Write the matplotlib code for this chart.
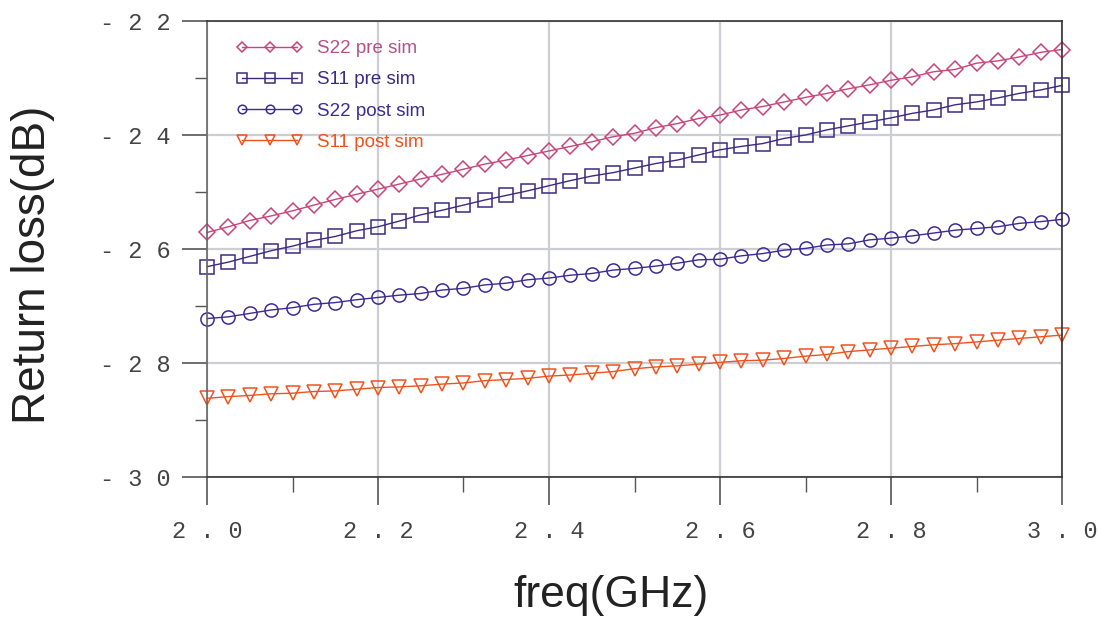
import numpy as np
import matplotlib
matplotlib.use("Agg")
import matplotlib.pyplot as plt
from matplotlib.ticker import MultipleLocator

# data (41 points, 2.0 .. 3.0 GHz)
freq = np.linspace(2.0, 3.0, 41)

s22_pre = [-25.71, -25.61, -25.50, -25.42, -25.33, -25.23, -25.13, -25.04, -24.95, -24.86,
           -24.77, -24.69, -24.60, -24.51, -24.44, -24.36, -24.28, -24.20, -24.12, -24.03,
           -23.97, -23.87, -23.80, -23.71, -23.65, -23.56, -23.50, -23.42, -23.34, -23.27,
           -23.19, -23.12, -23.04, -22.98, -22.89, -22.85, -22.74, -22.70, -22.63, -22.55,
           -22.50]
s11_pre = [-26.31, -26.23, -26.13, -26.03, -25.95, -25.85, -25.78, -25.68, -25.61, -25.51,
           -25.40, -25.32, -25.23, -25.14, -25.06, -24.98, -24.89, -24.80, -24.72, -24.66,
           -24.58, -24.50, -24.44, -24.35, -24.26, -24.20, -24.15, -24.06, -24.00, -23.91,
           -23.84, -23.77, -23.70, -23.62, -23.56, -23.47, -23.42, -23.35, -23.27, -23.21,
           -23.13]
s22_post = [-27.22, -27.19, -27.13, -27.07, -27.03, -26.97, -26.94, -26.89, -26.85, -26.81,
            -26.78, -26.72, -26.69, -26.63, -26.60, -26.54, -26.51, -26.46, -26.43, -26.37,
            -26.34, -26.30, -26.25, -26.19, -26.18, -26.12, -26.08, -26.02, -25.99, -25.93,
            -25.91, -25.84, -25.81, -25.77, -25.72, -25.67, -25.64, -25.61, -25.55, -25.52,
            -25.48]
s11_post = [-28.62, -28.59, -28.57, -28.54, -28.53, -28.50, -28.49, -28.46, -28.43, -28.42,
            -28.40, -28.37, -28.35, -28.31, -28.29, -28.27, -28.23, -28.21, -28.18, -28.15,
            -28.10, -28.07, -28.05, -28.02, -27.99, -27.96, -27.95, -27.92, -27.88, -27.85,
            -27.80, -27.77, -27.74, -27.71, -27.68, -27.66, -27.63, -27.60, -27.57, -27.54,
            -27.51]

labels = ["S22 pre sim", "S11 pre sim", "S22 post sim", "S11 post sim"]
colors = ["#c8447c", "#3b2a84", "#3d2b94", "#f0521e"]
text_colors = ["#b4508a", "#3b2a84", "#3d2b94", "#f0521e"]
markers = ["D", "s", "o", "v"]

yticks = [-30, -28, -26, -24, -22]
ytick_labels = ["- 3 0", "- 2 8", "- 2 6", "- 2 4", "- 2 2"]
xticks = [2.0, 2.2, 2.4, 2.6, 2.8, 3.0]
xtick_labels = ["2 . 0", "2 . 2", "2 . 4", "2 . 6", "2 . 8", "3 . 0"]

fig = plt.figure(figsize=(10.99, 6.19), dpi=100)
ax = fig.add_axes([207/1099, 1-477/619, (1062-207)/1099, (477-21)/619])

series = [s22_pre, s11_pre, s22_post, s11_post]
msizes = [8.5, 10, 9.5, 10]
for y, lab, c, m, ms in zip(series, labels, colors, markers, msizes):
    ax.plot(freq, y, color=c, lw=1.0, marker=m, ms=ms, mfc="none", mec=c, mew=1.1,
            label=lab, clip_on=False)

ax.set_xlim(2.0, 3.0)
ax.set_ylim(-30, -22)
ax.set_xticks(xticks)
ax.set_xticklabels(xtick_labels)
ax.set_yticks(yticks)
ax.set_yticklabels(ytick_labels)
ax.xaxis.set_minor_locator(MultipleLocator(0.1))
ax.yaxis.set_minor_locator(MultipleLocator(1))

ax.grid(True, which="major", color="#cdcdd4", lw=1.6)
ax.set_axisbelow(True)
for s in ax.spines.values():
    s.set_color("#333333")
    s.set_linewidth(1.2)
ax.spines["left"].set_color("#666666")

mono = {"family": "Liberation Mono", "size": 17, "color": "#444444"}
ax.tick_params(axis="x", which="major", direction="out", length=20, width=1.2,
               color="#555555", pad=11)
ax.tick_params(axis="x", which="minor", direction="out", length=11, width=1.0,
               color="#555555")
ax.tick_params(axis="y", which="major", direction="out", length=18, width=1.2,
               color="#555555", pad=8)
ax.tick_params(axis="y", which="minor", direction="out", length=9, width=1.0,
               color="#555555")
for t in ax.get_xticklabels() + ax.get_yticklabels():
    t.set_fontfamily(mono["family"])
    t.set_fontsize(mono["size"])
    t.set_color(mono["color"])

fig.text(611/1099, 1-596/619, "freq(GHz)", ha="center", va="center",
         fontsize=32, family="Liberation Sans", color="#222222")
fig.text(33/1099, 1-265/619, "Return loss(dB)", ha="center", va="center",
         rotation=90, fontsize=33, family="Liberation Sans", color="#222222")

leg = ax.legend(loc="upper left", bbox_to_anchor=(0.015, 0.995), frameon=False,
                numpoints=3, markerscale=0.65, handlelength=3.5, handletextpad=0.8,
                labelspacing=0.75, prop={"family": "Liberation Sans", "size": 13.5})
for txt, c in zip(leg.get_texts(), text_colors):
    txt.set_color(c)

fig.savefig("out.png", dpi=100)
